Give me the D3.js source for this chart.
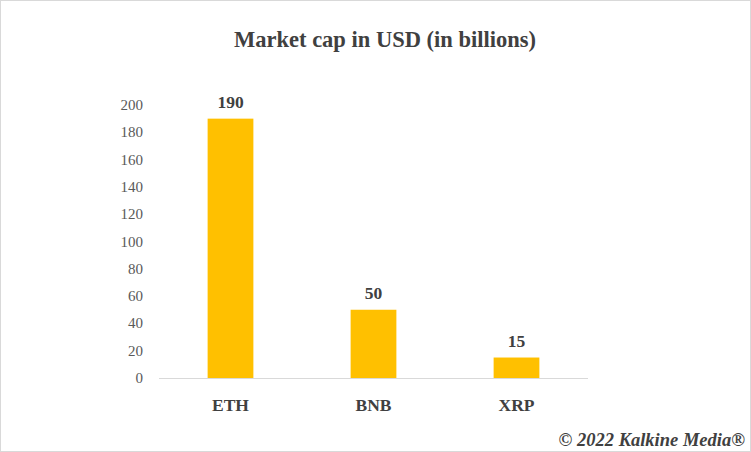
<!DOCTYPE html>
<html>
<head>
<meta charset="utf-8">
<script src="https://cdn.jsdelivr.net/npm/d3@7"></script>
<style>
  body { margin: 0; background: #fff; }
  text { font-family: "Liberation Serif", "Times New Roman", serif; }
</style>
</head>
<body>
<svg id="chart" width="751" height="452"></svg>
<script>
    'use strict';

    var categories = ['ETH', 'BNB', 'XRP'],
        values = [190, 50, 15],
        yTicks = [0, 20, 40, 60, 80, 100, 120, 140, 160, 180, 200];

    var svg = d3.select('#chart');

    // outer frame
    svg.append('rect')
        .attr('x', 0.5).attr('y', 0.5)
        .attr('width', 750).attr('height', 451)
        .attr('fill', '#fff')
        .attr('stroke', '#d9d9d9');

    var x = d3.scaleBand()
        .domain(categories)
        .range([159, 588])
        .paddingInner(0.68)
        .paddingOuter(0.34);

    var y = d3.scaleLinear()
        .domain([0, 200])
        .range([378, 105]);

    svg.append('text')
        .attr('x', 385).attr('y', 47)
        .attr('text-anchor', 'middle')
        .attr('font-size', 22.5)
        .attr('font-weight', 'bold')
        .attr('fill', '#404040')
        .text('Market cap in USD (in billions)');

    // y tick labels
    svg.append('g').selectAll('text')
        .data(yTicks)
        .join('text')
        .attr('x', 143)
        .attr('y', d => y(d) + 5)
        .attr('text-anchor', 'end')
        .attr('font-size', 15)
        .attr('fill', '#595959')
        .text(d => d);

    svg.append('line')
        .attr('x1', 159).attr('x2', 588)
        .attr('y1', y(0) + 0.5).attr('y2', y(0) + 0.5)
        .attr('stroke', '#d9d9d9');

    svg.append('g').selectAll('rect')
        .data(values)
        .join('rect')
        .attr('x', (d, i) => x(categories[i]))
        .attr('width', x.bandwidth())
        .attr('y', d => y(d))
        .attr('height', d => y(0) - y(d))
        .attr('fill', '#ffc000');

    svg.append('g').selectAll('text')
        .data(values)
        .join('text')
        .attr('x', (d, i) => x(categories[i]) + x.bandwidth() / 2)
        .attr('y', d => y(d) - 11)
        .attr('text-anchor', 'middle')
        .attr('font-size', 17.5)
        .attr('font-weight', 'bold')
        .attr('fill', '#404040')
        .text(d => d);

    svg.append('g').selectAll('text')
        .data(categories)
        .join('text')
        .attr('x', d => x(d) + x.bandwidth() / 2)
        .attr('y', 411)
        .attr('text-anchor', 'middle')
        .attr('font-size', 17.5)
        .attr('font-weight', 'bold')
        .attr('fill', '#404040')
        .text(d => d);

    svg.append('text')
        .attr('x', 745).attr('y', 446)
        .attr('text-anchor', 'end')
        .attr('font-size', 18.5)
        .attr('font-weight', 'bold')
        .attr('font-style', 'italic')
        .attr('fill', '#404040')
        .text('© 2022 Kalkine Media®');
</script>
</body>
</html>
